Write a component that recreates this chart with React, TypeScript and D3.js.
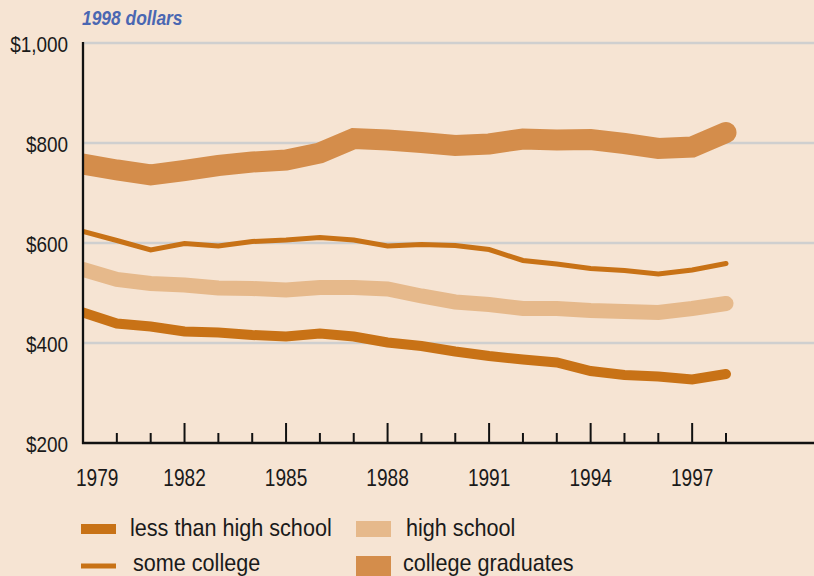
import React from "react";
import * as d3 from "d3";

const years = d3.range(1979, 1999);
const lessThanHighSchool = [461, 439, 433, 423, 421, 416, 413, 419, 413, 401, 394, 383, 374, 367, 361, 344, 336, 333, 327, 338];
const highSchool = [547, 527, 519, 516, 510, 509, 506, 511, 511, 508, 494, 482, 477, 469, 469, 465, 463, 461, 469, 479];
const someCollege = [623, 605, 586, 599, 594, 603, 606, 611, 606, 594, 597, 595, 587, 565, 558, 549, 545, 538, 546, 559];
const collegeGraduates = [758, 746, 736, 745, 755, 762, 766, 780, 809, 806, 801, 795, 798, 808, 806, 807, 799, 789, 792, 821];
const yTicks = [200, 400, 600, 800, 1000];
const majorYears = [1982, 1985, 1988, 1991, 1994, 1997];
const labelYears = [1979, 1982, 1985, 1988, 1991, 1994, 1997];

const seriesNames = ["less than high school", "high school", "some college", "college graduates"];

const BG = "#f6e4d3";
const FONT = "'Liberation Sans', Arial, sans-serif";

const series = [
  { name: seriesNames[3], values: collegeGraduates, color: "#d48d4b", width: 21 },
  { name: seriesNames[2], values: someCollege, color: "#c87216", width: 5 },
  { name: seriesNames[1], values: highSchool, color: "#e6b98b", width: 15 },
  { name: seriesNames[0], values: lessThanHighSchool, color: "#c87216", width: 10 },
];

const legendItems = [
  { name: seriesNames[0], color: "#c87216", h: 10, col: 0, row: 0 },
  { name: seriesNames[1], color: "#e6b98b", h: 16, col: 1, row: 0 },
  { name: seriesNames[2], color: "#c87216", h: 5, col: 0, row: 1 },
  { name: seriesNames[3], color: "#d48d4b", h: 20, col: 1, row: 1 },
];

function CText(props: {
  x: number;
  y: number;
  sx: number;
  size: number;
  anchor?: string;
  fill?: string;
  weight?: string;
  italic?: boolean;
  children: React.ReactNode;
}) {
  return (
    <text
      transform={`translate(${props.x},${props.y}) scale(${props.sx},1)`}
      textAnchor={props.anchor || "start"}
      fontSize={props.size}
      fill={props.fill || "#1a1a1a"}
      fontWeight={props.weight || "normal"}
      fontStyle={props.italic ? "italic" : "normal"}
    >
      {props.children}
    </text>
  );
}

export default function App() {
  const W = 814;
  const H = 576;
  const left = 83;
  const right = 814;
  const top = 43;
  const bottom = 443;

  const x = d3.scaleLinear().domain([1979, 1998]).range([left, 726]);
  const y = d3.scaleLinear().domain([200, 1000]).range([bottom, top]);

  const line = d3
    .line<number>()
    .x((_, i) => x(years[i]))
    .y((d) => y(d));

  return (
    <svg
      width={W}
      height={H}
      style={{ position: "absolute", left: 0, top: 0, display: "block", background: BG }}
      fontFamily={FONT}
    >
      <rect x={0} y={0} width={W} height={H} fill={BG} />
      <defs>
        <clipPath id="plotClip">
          <rect x={left} y={0} width={right - left} height={H} />
        </clipPath>
      </defs>

      <CText x={82} y={25} sx={0.87} size={20} weight="bold" italic fill="#4a67b2">
        1998 dollars
      </CText>

      {yTicks.filter((t) => t > 200).map((t) => (
        <line key={t} x1={left} x2={right} y1={y(t)} y2={y(t)} stroke="#cfcfcf" strokeWidth={2.7} />
      ))}

      {yTicks.map((t) => (
        <CText key={t} x={68} y={y(t) + 9} sx={0.86} size={22} anchor="end">
          {d3.format("$,")(t)}
        </CText>
      ))}

      <g clipPath="url(#plotClip)">
        {series.map((s) => (
          <path
            key={s.name}
            d={line(s.values) || ""}
            fill="none"
            stroke={s.color}
            strokeWidth={s.width}
            strokeLinecap="round"
            strokeLinejoin="miter"
          />
        ))}
      </g>

      <line x1={left} x2={left} y1={top - 1} y2={bottom + 1} stroke="#111" strokeWidth={2.3} />
      <line x1={left - 1} x2={right} y1={bottom} y2={bottom} stroke="#111" strokeWidth={2.5} />

      {years.slice(1).map((yr) => {
        const major = majorYears.includes(yr);
        return (
          <line
            key={yr}
            x1={x(yr)}
            x2={x(yr)}
            y1={bottom}
            y2={bottom - (major ? 20 : 10)}
            stroke="#111"
            strokeWidth={2}
          />
        );
      })}

      {labelYears.map((yr, i) => (
        <CText
          key={yr}
          x={i === 0 ? x(yr) - 7 : x(yr)}
          y={486}
          sx={0.83}
          size={23}
          anchor={i === 0 ? "start" : "middle"}
        >
          {yr}
        </CText>
      ))}

      {legendItems.map((it) => {
        const sx = it.col === 0 ? 81 : 356;
        const cy = it.row === 0 ? 529 : 566;
        const tx = it.col === 0 ? (it.row === 0 ? 130 : 133) : (it.row === 0 ? 406 : 403);
        return (
          <g key={it.name}>
            <rect x={sx} y={cy - it.h / 2} width={35} height={it.h} fill={it.color} />
            <CText x={tx} y={it.row === 0 ? 536 : 571} sx={0.9} size={24}>
              {it.name}
            </CText>
          </g>
        );
      })}
    </svg>
  );
}
